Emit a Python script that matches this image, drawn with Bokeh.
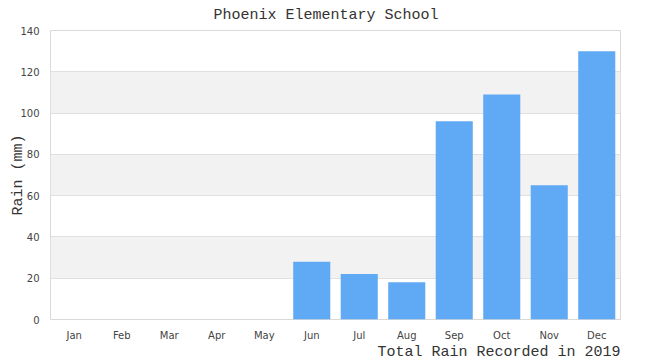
from bokeh.plotting import figure
from bokeh.models import ColumnDataSource, FactorRange, Range1d, FixedTicker, Title
from bokeh.embed import file_html
from bokeh.resources import INLINE

# Monthly rainfall totals (mm) for 2019
months = ["Jan", "Feb", "Mar", "Apr", "May", "Jun",
          "Jul", "Aug", "Sep", "Oct", "Nov", "Dec"]
rain_mm = [0, 0, 0, 0, 0, 28, 22, 18, 96, 109, 65, 130]
y_ticks = [0, 20, 40, 60, 80, 100, 120, 140]

title_text = "Phoenix Elementary School"
x_title = "Total Rain Recorded in 2019"
y_title = "Rain (mm)"

MONO = "Liberation Mono"
SANS = "DejaVu Sans"

src = ColumnDataSource(dict(month=months, rain=rain_mm))

p = figure(
    width=650, height=360,
    x_range=FactorRange(*months, range_padding=0),
    y_range=Range1d(0, 140),
    output_backend="svg", toolbar_location=None,
    min_border_left=50, min_border_right=30,
    min_border_top=30, min_border_bottom=41,
)
p.background_fill_color = "white"
p.border_fill_color = "white"
p.outline_line_color = "#d9d9d9"
p.outline_line_width = 1

# chart title, left-anchored so it sits centred on the page
p.title.text = title_text
p.title.align = "left"
p.title.offset = 163
p.title.vertical_align = "middle"
p.title.standoff = 11
p.title.text_font = MONO
p.title.text_font_size = "15px"
p.title.text_font_style = "normal"
p.title.text_color = "#333333"

p.vbar(x="month", top="rain", width=0.78, source=src,
       fill_color="#60a9f5", line_color=None)

# axes: no lines or ticks, just labels
for ax in (p.xaxis[0], p.yaxis[0]):
    ax.axis_line_color = None
    ax.major_tick_line_color = None
    ax.minor_tick_line_color = None
    ax.major_tick_in = 0
    ax.major_tick_out = 0
    ax.major_label_text_font = SANS
    ax.major_label_text_font_size = "10px"
    ax.major_label_text_color = "#444444"
p.yaxis[0].ticker = FixedTicker(ticks=y_ticks)
p.yaxis[0].major_label_standoff = 11
p.xaxis[0].major_label_standoff = 10

p.yaxis[0].axis_label = y_title
p.yaxis[0].axis_label_standoff = -10
p.yaxis[0].axis_label_text_font = MONO
p.yaxis[0].axis_label_text_font_size = "15px"
p.yaxis[0].axis_label_text_font_style = "normal"
p.yaxis[0].axis_label_text_color = "#333333"

# x-axis caption at the bottom right
p.add_layout(Title(text=x_title, align="right", offset=0,
                   vertical_align="bottom", standoff=-4,
                   text_font=MONO, text_font_size="15px",
                   text_font_style="normal", text_color="#333333"), "below")

p.xgrid.grid_line_color = None
p.ygrid.ticker = FixedTicker(ticks=y_ticks)
p.ygrid.grid_line_color = "#e0e0e0"
p.ygrid.grid_line_width = 1
p.ygrid.band_fill_color = "#f2f2f2"
p.ygrid.band_fill_alpha = 1.0

open("out.html", "w").write(file_html(p, INLINE))
